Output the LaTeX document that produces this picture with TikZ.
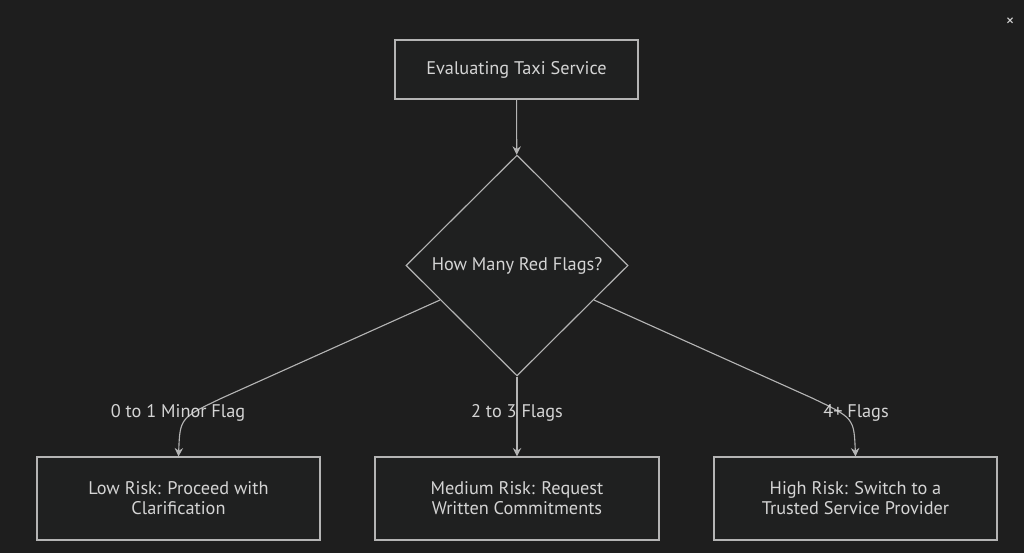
\documentclass[tikz,border=0pt]{standalone}
\usepackage{fontspec}
\setmainfont{PT Sans}
\usepackage{tikz}
\usetikzlibrary{arrows.meta,shapes.geometric}

\definecolor{bgcol}{HTML}{1E1E1E}
\definecolor{linecol}{HTML}{B4B4B4}
\definecolor{textcol}{HTML}{D4D4D4}
\definecolor{boxfill}{HTML}{1F2020}

\begin{document}
\begin{tikzpicture}[x=0.025cm,y=-0.025cm]
					\tikzstyle{box}=[rectangle,draw=linecol,fill=boxfill,line width=0.8pt,text=textcol,align=center,font=\fontsize{13}{14.2}\selectfont]
					\tikzstyle{decision}=[diamond,draw=linecol,fill=boxfill,line width=0.8pt,text=textcol,aspect=1,inner sep=0pt,minimum width=5.55cm,minimum height=5.52cm,font=\fontsize{13}{14.2}\selectfont]
					\tikzstyle{edge}=[draw=linecol,line width=0.8pt,-{Stealth[length=6pt,width=6pt]}]
					\tikzstyle{elabel}=[text=textcol,font=\fontsize{13}{14.2}\selectfont]
					\fill[bgcol] (0,0) rectangle (1024,553);
					\useasboundingbox (0,0) rectangle (1024,553);
					\node[box,minimum width=6.075cm,minimum height=1.475cm] (start) at (516.5,69.5) {Evaluating Taxi Service};
					\node[decision] (flags) at (517,265.5) {How Many Red Flags?};
					\node[box,minimum width=7.075cm,minimum height=2.075cm] (low) at (178.5,498.5) {Low Risk: Proceed with\\Clarification};
					\node[box,minimum width=7.1cm,minimum height=2.075cm] (mid) at (517,498.5) {Medium Risk: Request\\Written Commitments};
					\node[box,minimum width=7.075cm,minimum height=2.075cm] (high) at (855.5,498.5) {High Risk: Switch to a\\Trusted Service Provider};
					\coordinate (l0) at (440,300);
					\coordinate (l1) at (222,398);
					\coordinate (r0) at (594,300);
					\coordinate (r1) at (812,398);
					\draw[edge] (start) -- (flags);
					\draw[edge] (l0) -- (l1) .. controls (180,418) .. (low.north);
					\draw[edge] (flags) -- (mid);
					\draw[edge] (r0) -- (r1) .. controls (854,418) .. (high.north);
					\node[elabel] (lowlab) at (178,413) {0 to 1 Minor Flag};
					\node[elabel] (midlab) at (517,413) {2 to 3 Flags};
					\node[elabel] (highlab) at (856,413) {4+ Flags};
					\node[text=textcol,font=\fontsize{12}{12}\selectfont] (close) at (1010,22) {×};
\end{tikzpicture}
\end{document}
